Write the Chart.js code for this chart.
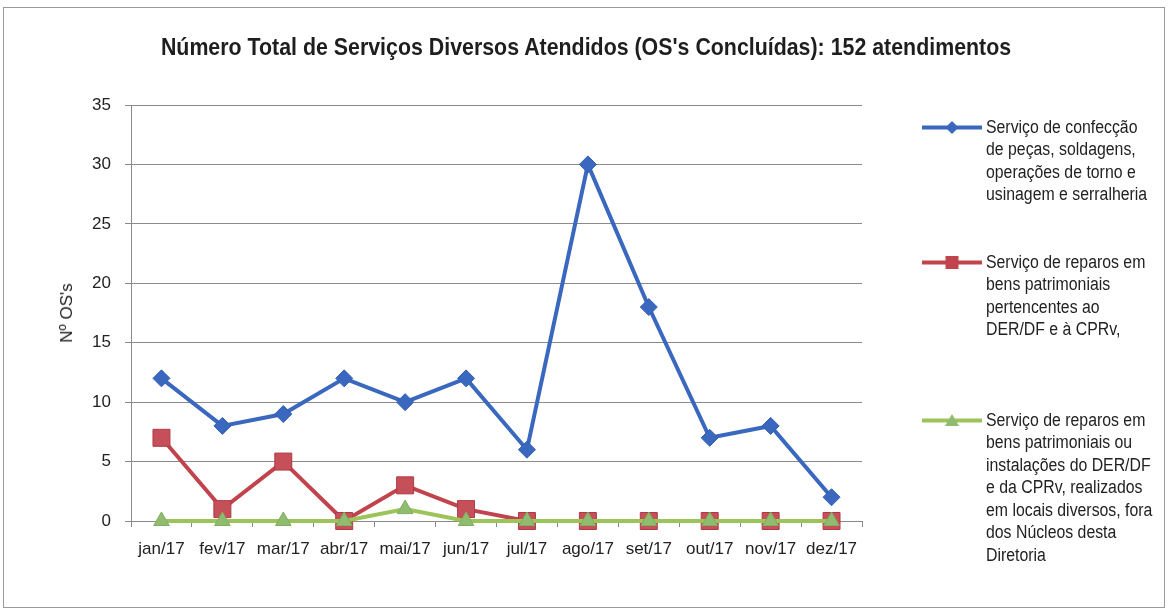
<!DOCTYPE html>
<html>
<head>
<meta charset="utf-8">
<script src="https://cdn.jsdelivr.net/npm/chart.js@4.4.1/dist/chart.umd.min.js"></script>
<style>
  html, body { margin: 0; padding: 0; background: #fff; }
  #wrap { position: relative; width: 1173px; height: 616px; overflow: hidden; background: #fff;
          font-family: "Liberation Sans", Arial, sans-serif; color: #222; }
  #frame { position: absolute; left: 3px; top: 7px; width: 1162px; height: 601px; border: 1px solid #9a9a9a; box-sizing: border-box; }
  canvas { position: absolute; left: 0; top: 0; }
  #title { position: absolute; left: 586px; top: 47px; transform: translate(-50%, -50%) scaleX(0.89); font-size: 24px; font-weight: bold; line-height: 32px; color: #1e1e1e; white-space: nowrap; }
  #ytitle { position: absolute; left: 67px; top: 313px; transform: translate(-50%, -50%) rotate(-90deg); font-size: 17px; white-space: nowrap; color: #222; }
  .leg { position: absolute; left: 922px; display: flex; align-items: flex-start; }
  .leg svg { flex: none; margin-top: 1px; }
  .leg .txt { font-size: 18px; line-height: 22.5px; margin-left: 2px; color: #222; transform: scaleX(0.88); transform-origin: 0 0; white-space: nowrap; }
</style>
</head>
<body>
<div id="wrap">
  <div id="frame"></div>
  <canvas id="c" width="1173" height="616"></canvas>
  <div id="title"></div>
  <div id="ytitle"></div>
  <div id="legend"></div>
</div>
<script>
// ---- data ----
const titleText = "Número Total de Serviços Diversos Atendidos (OS's Concluídas): 152 atendimentos";
const yAxisTitle = "Nº OS's";
const categories = ['jan/17','fev/17','mar/17','abr/17','mai/17','jun/17','jul/17','ago/17','set/17','out/17','nov/17','dez/17'];
const serieConfeccao = [12, 8, 9, 12, 10, 12, 6, 30, 18, 7, 8, 2];
const serieReparos   = [7, 1, 5, 0, 3, 1, 0, 0, 0, 0, 0, 0];
const serieLocais    = [0, 0, 0, 0, 1, 0, 0, 0, 0, 0, 0, 0];
const yMin = 0, yMax = 35, yStep = 5;
const legendConfeccao = ['Serviço de confecção', 'de peças, soldagens,', 'operações de torno e', 'usinagem e serralheria'];
const legendReparos = ['Serviço de reparos em', 'bens patrimoniais', 'pertencentes ao', 'DER/DF e à CPRv,'];
const legendLocais = ['Serviço de reparos em', 'bens patrimoniais ou', 'instalações do DER/DF', 'e da CPRv, realizados', 'em locais diversos, fora', 'dos Núcleos desta', 'Diretoria'];

// ---- styles ----
const FONT = '"Liberation Sans", Arial, sans-serif';
const blue = '#3a68bf', red = '#c1444c', green = '#9cc45a';

document.getElementById('title').textContent = titleText;
document.getElementById('ytitle').textContent = yAxisTitle;

const legendItems = [
  { lines: legendConfeccao, y: 127, color: blue, shape: 'diamond' },
  { lines: legendReparos, y: 262, color: red, shape: 'square' },
  { lines: legendLocais, y: 420, color: green, shape: 'triangle', mcolor: '#8fbc6e' }
];
const legendEl = document.getElementById('legend');
legendItems.forEach(it => {
  const d = document.createElement('div');
  d.className = 'leg';
  d.style.top = (it.y - 11.25) + 'px';
  let marker = '';
  const mc = it.mcolor || it.color;
  if (it.shape === 'diamond') marker = `<polygon points="30,4 36.5,10.5 30,17 23.5,10.5" fill="${mc}"/>`;
  if (it.shape === 'square') marker = `<rect x="23.5" y="4" width="13" height="13" fill="${mc}"/>`;
  if (it.shape === 'triangle') marker = `<polygon points="30,4 37,16 23,16" fill="${mc}"/>`;
  d.innerHTML = `<svg width="62" height="21" viewBox="0 0 62 21"><line x1="0" y1="10.5" x2="60" y2="10.5" stroke="${it.color}" stroke-width="4"/>${marker}</svg>` +
    `<div class="txt">${it.lines.map(l => l.replace(/&/g,'&amp;').replace(/</g,'&lt;')).join('<br>')}</div>`;
  legendEl.appendChild(d);
});

new Chart(document.getElementById('c'), {
  type: 'line',
  data: {
    labels: categories,
    datasets: [
      { label: legendConfeccao.join(' '), data: serieConfeccao, borderColor: blue, backgroundColor: blue,
        borderWidth: 4, pointStyle: 'rectRot', pointRadius: 8.5, pointBorderWidth: 1, pointBorderColor: '#335fb0',
        tension: 0, order: 2, clip: false },
      { label: legendReparos.join(' '), data: serieReparos, borderColor: red, backgroundColor: '#c5505a',
        borderWidth: 4, pointStyle: 'rect', pointRadius: 12, pointBorderWidth: 1, pointBorderColor: '#b03a44',
        tension: 0, order: 1, clip: false },
      { label: legendLocais.join(' '), data: serieLocais, borderColor: green, backgroundColor: '#8fbc6e',
        borderWidth: 4, pointStyle: 'triangle', pointRadius: 9, pointBorderWidth: 1, pointBorderColor: '#80ad62',
        tension: 0, order: 0, clip: false }
    ]
  },
  options: {
    responsive: false,
    animation: false,
    events: [],
    layout: { autoPadding: false, padding: { left: 0, right: 311, top: 105, bottom: 0 } },
    plugins: { legend: { display: false }, title: { display: false }, tooltip: { enabled: false } },
    scales: {
      x: {
        offset: true,
        grid: { offset: true, drawOnChartArea: false, drawTicks: true, tickLength: 6, color: '#8a8a8a' },
        border: { color: '#8a8a8a', width: 1 },
        ticks: { padding: 12, color: '#222', font: { family: FONT, size: 17 }, maxRotation: 0, autoSkip: false },
        afterFit: s => { s.height = 95; }
      },
      y: {
        min: yMin, max: yMax,
        ticks: { stepSize: yStep, padding: 14, color: '#222', font: { family: FONT, size: 17 } },
        grid: { color: '#8a8a8a', tickLength: 6, lineWidth: 1 },
        border: { color: '#8a8a8a', width: 1 },
        afterFit: s => { s.width = 131; }
      }
    }
  }
});
</script>
</body>
</html>
